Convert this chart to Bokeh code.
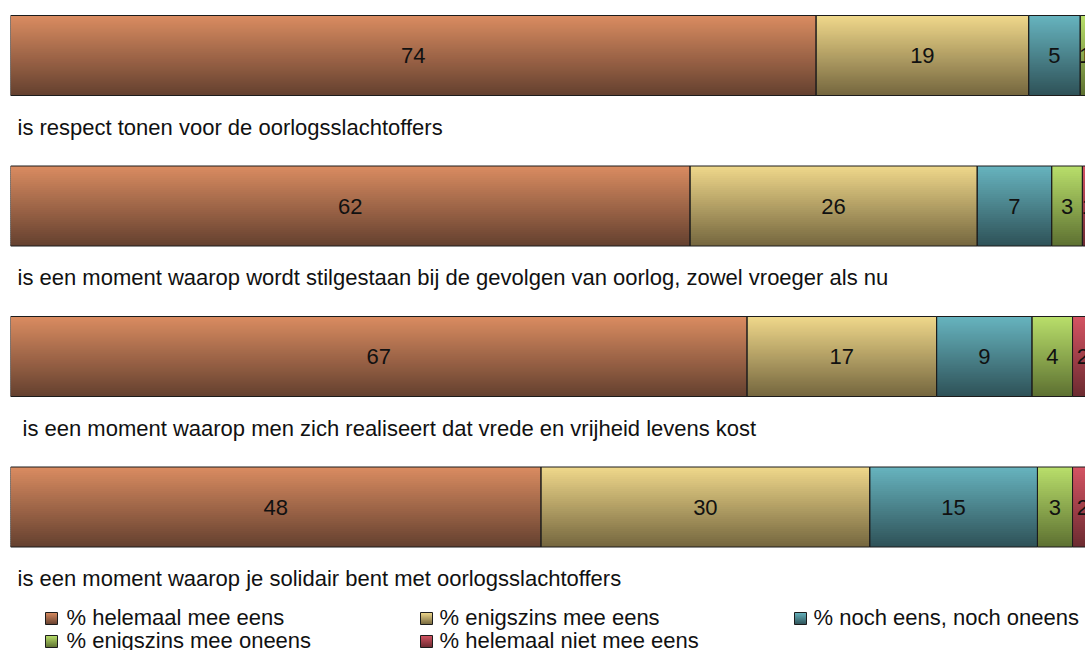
import numpy as np
from bokeh.plotting import figure
from bokeh.models import Range1d
from bokeh.core.properties import value
from bokeh.embed import file_html
from bokeh.resources import INLINE

# ---------------- data (percentages) ----------------
statements = [
    "is respect tonen voor de oorlogsslachtoffers",
    "is een moment waarop wordt stilgestaan bij de gevolgen van oorlog, zowel vroeger als nu",
    "is een moment waarop men zich realiseert dat vrede en vrijheid levens kost",
    "is een moment waarop je solidair bent met oorlogsslachtoffers",
]
series_names = [
    "% helemaal mee eens",
    "% enigszins mee eens",
    "% noch eens, noch oneens",
    "% enigszins mee oneens",
    "% helemaal niet mee eens",
]
helemaal_mee_eens = [73.5, 62.0, 67.2, 48.4]
enigszins_mee_eens = [19.4, 26.2, 17.3, 30.0]
noch_eens_noch_oneens = [4.7, 6.8, 8.7, 15.3]
enigszins_mee_oneens = [0.9, 2.8, 3.7, 3.2]
helemaal_niet_mee_eens = [1.0, 1.0, 1.9, 1.9]
series_values = [helemaal_mee_eens, enigszins_mee_eens, noch_eens_noch_oneens,
                 enigszins_mee_oneens, helemaal_niet_mee_eens]

# ---------------- style ----------------
top_colors = ["#DA8C61", "#F0D88B", "#67B4BF", "#B9DF6B", "#D55463"]
bottom_colors = ["#64402F", "#74663E", "#2E5157", "#5D7031", "#6B2A30"]
FONT = "Liberation Sans"
FS = "22px"

PAGE_OFF = 0
W, H = 1085, 650
LEFT_BORDER = 10
PX_PER_UNIT = 10.96
ROW_PITCH = 150.5
FIRST_ROW_PX = 55
BAR_H = 80 / ROW_PITCH
N_STRIPS = 40
LABEL_OFFSET_PX = 71.5

frame_w = W - LEFT_BORDER
x_end = frame_w / PX_PER_UNIT
y_top = -FIRST_ROW_PX / ROW_PITCH
y_bottom = (H - FIRST_ROW_PX) / ROW_PITCH


def xd(page_x):
    return (page_x - PAGE_OFF - LEFT_BORDER) / PX_PER_UNIT


def yd(page_y):
    return (page_y - PAGE_OFF - FIRST_ROW_PX) / ROW_PITCH


def h2rgb(h):
    h = h.lstrip("#")
    return np.array([int(h[i:i + 2], 16) for i in (0, 2, 4)], dtype=float)


def mix(c1, c2, t):
    c = h2rgb(c1) * (1 - t) + h2rgb(c2) * t
    return "#%02x%02x%02x" % tuple(int(round(v)) for v in c)


p = figure(width=W, height=H, output_backend="svg", toolbar_location=None,
           x_range=Range1d(0, x_end), y_range=Range1d(y_bottom, y_top),
           x_axis_type=None, y_axis_type=None,
           min_border_left=LEFT_BORDER, min_border_right=0,
           min_border_top=0, min_border_bottom=0)
p.grid.visible = False
p.outline_line_color = None
p.background_fill_color = "white"
p.border_fill_color = "white"

# ---------------- gradient bars ----------------
sl, sr, st, sb, sc = [], [], [], [], []
ol, orr, ot, ob = [], [], [], []
tx, ty, tt = [], [], []
for i in range(len(statements)):
    left = 0.0
    for k, vals in enumerate(series_values):
        v = vals[i]
        right = left + v
        top = i - BAR_H / 2
        step = BAR_H / N_STRIPS
        for j in range(N_STRIPS):
            t = (j + 0.5) / N_STRIPS
            sl.append(left)
            sr.append(right)
            st.append(top + j * step)
            sb.append(min(top + (j + 1.6) * step, i + BAR_H / 2))
            sc.append(mix(top_colors[k], bottom_colors[k], t))
        ol.append(left)
        orr.append(right)
        ot.append(i - BAR_H / 2)
        ob.append(i + BAR_H / 2)
        if v > 0:
            tx.append((left + right) / 2)
            ty.append(i)
            tt.append(str(int(round(v))))
        left = right

p.quad(left=sl, right=sr, top=st, bottom=sb, fill_color=sc, line_color=None)
p.quad(left=ol, right=orr, top=ot, bottom=ob, fill_color=None,
       line_color="#1c1c1c", line_width=1)
p.text(x=tx, y=ty, text=tt, text_align="center", text_baseline="middle",
       text_font=value(FONT), text_font_size=FS, text_color="#111111")

# ---------------- statement labels ----------------
label_page_x = [17, 17, 22, 17]
p.text(x=[xd(px) for px in label_page_x],
       y=[i + LABEL_OFFSET_PX / ROW_PITCH for i in range(len(statements))],
       text=statements, text_align="left", text_baseline="middle",
       text_font=value(FONT), text_font_size=FS, text_color="#111111")

# ---------------- legend ----------------
col_sq_left = [45, 420, 794]
col_text_x = [66, 439, 813]
row_sq_center = [618, 641]
row_text_mid = [617, 640]
SQ = 12
lsl, lsr, lst, lsb, lsc = [], [], [], [], []
lol, lor, lot, lob = [], [], [], []
ltx, lty = [], []
for k, name in enumerate(series_names):
    r, c = divmod(k, 3)
    x0 = xd(col_sq_left[c])
    x1 = xd(col_sq_left[c] + SQ)
    y0 = yd(row_sq_center[r] - SQ / 2)
    y1 = yd(row_sq_center[r] + SQ / 2)
    n = 6
    for j in range(n):
        t = (j + 0.5) / n
        lsl.append(x0)
        lsr.append(x1)
        lst.append(y0 + (y1 - y0) * j / n)
        lsb.append(y0 + (y1 - y0) * min(j + 1.5, n) / n)
        lsc.append(mix(top_colors[k], bottom_colors[k], t))
    lol.append(x0)
    lor.append(x1)
    lot.append(y0)
    lob.append(y1)
    ltx.append(xd(col_text_x[c]))
    lty.append(yd(row_text_mid[r]))

p.quad(left=lsl, right=lsr, top=lst, bottom=lsb, fill_color=lsc, line_color=None)
p.quad(left=lol, right=lor, top=lot, bottom=lob, fill_color=None,
       line_color="#1c1c1c", line_width=1)
p.text(x=ltx, y=lty, text=series_names, text_align="left",
       text_baseline="middle", text_font=value(FONT), text_font_size=FS,
       text_color="#111111")

open("out.html", "w").write(file_html(p, INLINE))
